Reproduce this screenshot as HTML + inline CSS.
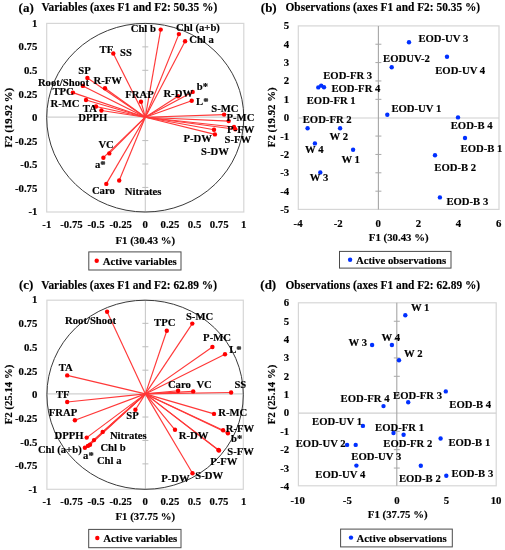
<!DOCTYPE html>
<html><head><meta charset="utf-8"><style>
html,body{margin:0;padding:0;background:#fff;}
svg{display:block;will-change:transform;filter:blur(0.3px);}
text{font-family:"Liberation Serif", serif;font-weight:bold;fill:#000;stroke:#000;stroke-width:0.15px;}
</style></head><body>
<svg width="505" height="550" viewBox="0 0 505 550">
<rect width="505" height="550" fill="#fff"/>
<rect x="46.70" y="23.40" width="197.10" height="188.60" stroke="#d6d6d6" stroke-width="1.2" fill="none"/>
<line x1="46.70" y1="117.20" x2="243.80" y2="117.20" stroke="#d0d0d0" stroke-width="1.2"/>
<line x1="145.30" y1="23.40" x2="145.30" y2="212.00" stroke="#cacaca" stroke-width="1.1"/>
<line x1="142.30" y1="46.88" x2="148.30" y2="46.88" stroke="#bcbcbc" stroke-width="1"/>
<line x1="142.30" y1="70.30" x2="148.30" y2="70.30" stroke="#bcbcbc" stroke-width="1"/>
<line x1="142.30" y1="93.73" x2="148.30" y2="93.73" stroke="#bcbcbc" stroke-width="1"/>
<line x1="142.30" y1="140.58" x2="148.30" y2="140.58" stroke="#bcbcbc" stroke-width="1"/>
<line x1="142.30" y1="164.00" x2="148.30" y2="164.00" stroke="#bcbcbc" stroke-width="1"/>
<line x1="142.30" y1="187.43" x2="148.30" y2="187.43" stroke="#bcbcbc" stroke-width="1"/>
<ellipse cx="145.25" cy="117.7" rx="98.55" ry="94.3" stroke="#3a3a3a" stroke-width="1" fill="none"/>
<line x1="145.30" y1="117.20" x2="160.70" y2="29.60" stroke="#ff3838" stroke-width="1.15"/>
<line x1="145.30" y1="117.20" x2="178.90" y2="34.10" stroke="#ff3838" stroke-width="1.15"/>
<line x1="145.30" y1="117.20" x2="185.10" y2="41.30" stroke="#ff3838" stroke-width="1.15"/>
<line x1="145.30" y1="117.20" x2="113.30" y2="53.50" stroke="#ff3838" stroke-width="1.15"/>
<line x1="145.30" y1="117.20" x2="87.40" y2="78.00" stroke="#ff3838" stroke-width="1.15"/>
<line x1="145.30" y1="117.20" x2="82.90" y2="85.90" stroke="#ff3838" stroke-width="1.15"/>
<line x1="145.30" y1="117.20" x2="105.00" y2="88.30" stroke="#ff3838" stroke-width="1.15"/>
<line x1="145.30" y1="117.20" x2="72.90" y2="92.60" stroke="#ff3838" stroke-width="1.15"/>
<line x1="145.30" y1="117.20" x2="86.00" y2="100.00" stroke="#ff3838" stroke-width="1.15"/>
<line x1="145.30" y1="117.20" x2="96.00" y2="106.50" stroke="#ff3838" stroke-width="1.15"/>
<line x1="145.30" y1="117.20" x2="101.40" y2="110.50" stroke="#ff3838" stroke-width="1.15"/>
<line x1="145.30" y1="117.20" x2="141.00" y2="101.70" stroke="#ff3838" stroke-width="1.15"/>
<line x1="145.30" y1="117.20" x2="178.00" y2="96.30" stroke="#ff3838" stroke-width="1.15"/>
<line x1="145.30" y1="117.20" x2="192.70" y2="91.90" stroke="#ff3838" stroke-width="1.15"/>
<line x1="145.30" y1="117.20" x2="191.70" y2="100.80" stroke="#ff3838" stroke-width="1.15"/>
<line x1="145.30" y1="117.20" x2="224.10" y2="114.60" stroke="#ff3838" stroke-width="1.15"/>
<line x1="145.30" y1="117.20" x2="228.70" y2="121.10" stroke="#ff3838" stroke-width="1.15"/>
<line x1="145.30" y1="117.20" x2="234.00" y2="127.00" stroke="#ff3838" stroke-width="1.15"/>
<line x1="145.30" y1="117.20" x2="235.30" y2="129.20" stroke="#ff3838" stroke-width="1.15"/>
<line x1="145.30" y1="117.20" x2="214.00" y2="129.80" stroke="#ff3838" stroke-width="1.15"/>
<line x1="145.30" y1="117.20" x2="214.90" y2="134.40" stroke="#ff3838" stroke-width="1.15"/>
<line x1="145.30" y1="117.20" x2="109.30" y2="153.40" stroke="#ff3838" stroke-width="1.15"/>
<line x1="145.30" y1="117.20" x2="103.40" y2="157.70" stroke="#ff3838" stroke-width="1.15"/>
<line x1="145.30" y1="117.20" x2="106.30" y2="183.90" stroke="#ff3838" stroke-width="1.15"/>
<line x1="145.30" y1="117.20" x2="119.20" y2="180.50" stroke="#ff3838" stroke-width="1.15"/>
<circle cx="160.70" cy="29.60" r="2.2" fill="#ff0000"/>
<circle cx="178.90" cy="34.10" r="2.2" fill="#ff0000"/>
<circle cx="185.10" cy="41.30" r="2.2" fill="#ff0000"/>
<circle cx="113.30" cy="53.50" r="2.2" fill="#ff0000"/>
<circle cx="87.40" cy="78.00" r="2.2" fill="#ff0000"/>
<circle cx="82.90" cy="85.90" r="2.2" fill="#ff0000"/>
<circle cx="105.00" cy="88.30" r="2.2" fill="#ff0000"/>
<circle cx="72.90" cy="92.60" r="2.2" fill="#ff0000"/>
<circle cx="86.00" cy="100.00" r="2.2" fill="#ff0000"/>
<circle cx="96.00" cy="106.50" r="2.2" fill="#ff0000"/>
<circle cx="101.40" cy="110.50" r="2.2" fill="#ff0000"/>
<circle cx="141.00" cy="101.70" r="2.2" fill="#ff0000"/>
<circle cx="178.00" cy="96.30" r="2.2" fill="#ff0000"/>
<circle cx="192.70" cy="91.90" r="2.2" fill="#ff0000"/>
<circle cx="191.70" cy="100.80" r="2.2" fill="#ff0000"/>
<circle cx="224.10" cy="114.60" r="2.2" fill="#ff0000"/>
<circle cx="228.70" cy="121.10" r="2.2" fill="#ff0000"/>
<circle cx="234.00" cy="127.00" r="2.2" fill="#ff0000"/>
<circle cx="235.30" cy="129.20" r="2.2" fill="#ff0000"/>
<circle cx="214.00" cy="129.80" r="2.2" fill="#ff0000"/>
<circle cx="214.90" cy="134.40" r="2.2" fill="#ff0000"/>
<circle cx="109.30" cy="153.40" r="2.2" fill="#ff0000"/>
<circle cx="103.40" cy="157.70" r="2.2" fill="#ff0000"/>
<circle cx="106.30" cy="183.90" r="2.2" fill="#ff0000"/>
<circle cx="119.20" cy="180.50" r="2.2" fill="#ff0000"/>
<text transform="translate(130.70,28.40) scale(1,1.035)" y="3.32" font-size="10.7" text-anchor="start">Chl b</text>
<text transform="translate(176.10,27.10) scale(1,1.035)" y="3.32" font-size="10.7" text-anchor="start">Chl (a+b)</text>
<text transform="translate(189.20,39.60) scale(1,1.035)" y="3.32" font-size="10.7" text-anchor="start">Chl a</text>
<text transform="translate(99.60,49.90) scale(1,1.035)" y="3.32" font-size="10.7" text-anchor="start">TF</text>
<text transform="translate(120.10,52.90) scale(1,1.035)" y="3.32" font-size="10.7" text-anchor="start">SS</text>
<text transform="translate(78.20,70.90) scale(1,1.035)" y="3.32" font-size="10.7" text-anchor="start">SP</text>
<text transform="translate(37.90,82.10) scale(1,1.035)" y="3.32" font-size="10.7" text-anchor="start">Root/Shoot</text>
<text transform="translate(93.50,80.80) scale(1,1.035)" y="3.32" font-size="10.7" text-anchor="start">R-FW</text>
<text transform="translate(52.40,91.60) scale(1,1.035)" y="3.32" font-size="10.7" text-anchor="start">TPC</text>
<text transform="translate(50.50,103.20) scale(1,1.035)" y="3.32" font-size="10.7" text-anchor="start">R-MC</text>
<text transform="translate(82.80,108.50) scale(1,1.035)" y="3.32" font-size="10.7" text-anchor="start">TA</text>
<text transform="translate(78.20,117.40) scale(1,1.035)" y="3.32" font-size="10.7" text-anchor="start">DPPH</text>
<text transform="translate(125.30,94.70) scale(1,1.035)" y="3.32" font-size="10.7" text-anchor="start">FRAP</text>
<text transform="translate(163.40,93.90) scale(1,1.035)" y="3.32" font-size="10.7" text-anchor="start">R-DW</text>
<text transform="translate(196.70,86.90) scale(1,1.035)" y="3.32" font-size="10.7" text-anchor="start">b*</text>
<text transform="translate(196.00,101.30) scale(1,1.035)" y="3.32" font-size="10.7" text-anchor="start">L*</text>
<text transform="translate(211.20,109.00) scale(1,1.035)" y="3.32" font-size="10.7" text-anchor="start">S-MC</text>
<text transform="translate(226.50,117.50) scale(1,1.035)" y="3.32" font-size="10.7" text-anchor="start">P-MC</text>
<text transform="translate(227.10,129.70) scale(1,1.035)" y="3.32" font-size="10.7" text-anchor="start">P-FW</text>
<text transform="translate(224.50,139.50) scale(1,1.035)" y="3.32" font-size="10.7" text-anchor="start">S-FW</text>
<text transform="translate(183.50,138.80) scale(1,1.035)" y="3.32" font-size="10.7" text-anchor="start">P-DW</text>
<text transform="translate(201.10,151.60) scale(1,1.035)" y="3.32" font-size="10.7" text-anchor="start">S-DW</text>
<text transform="translate(98.40,144.30) scale(1,1.035)" y="3.32" font-size="10.7" text-anchor="start">VC</text>
<text transform="translate(95.00,164.70) scale(1,1.035)" y="3.32" font-size="10.7" text-anchor="start">a*</text>
<text transform="translate(91.90,190.40) scale(1,1.035)" y="3.32" font-size="10.7" text-anchor="start">Caro</text>
<text transform="translate(124.70,191.80) scale(1,1.035)" y="3.32" font-size="10.7" text-anchor="start">Nitrates</text>
<text transform="translate(37.40,23.30) scale(1,1.035)" y="3.35" font-size="10.8" text-anchor="end">1</text>
<text transform="translate(37.40,46.88) scale(1,1.035)" y="3.35" font-size="10.8" text-anchor="end">0.75</text>
<text transform="translate(37.40,70.45) scale(1,1.035)" y="3.35" font-size="10.8" text-anchor="end">0.5</text>
<text transform="translate(37.40,94.02) scale(1,1.035)" y="3.35" font-size="10.8" text-anchor="end">0.25</text>
<text transform="translate(37.40,117.60) scale(1,1.035)" y="3.35" font-size="10.8" text-anchor="end">0</text>
<text transform="translate(37.40,141.17) scale(1,1.035)" y="3.35" font-size="10.8" text-anchor="end">-0.25</text>
<text transform="translate(37.40,164.75) scale(1,1.035)" y="3.35" font-size="10.8" text-anchor="end">-0.5</text>
<text transform="translate(37.40,188.32) scale(1,1.035)" y="3.35" font-size="10.8" text-anchor="end">-0.75</text>
<text transform="translate(37.40,211.90) scale(1,1.035)" y="3.35" font-size="10.8" text-anchor="end">-1</text>
<text transform="translate(46.80,224.60) scale(1,1.035)" y="3.35" font-size="10.8" text-anchor="middle">-1</text>
<text transform="translate(71.43,224.60) scale(1,1.035)" y="3.35" font-size="10.8" text-anchor="middle">-0.75</text>
<text transform="translate(96.05,224.60) scale(1,1.035)" y="3.35" font-size="10.8" text-anchor="middle">-0.5</text>
<text transform="translate(120.68,224.60) scale(1,1.035)" y="3.35" font-size="10.8" text-anchor="middle">-0.25</text>
<text transform="translate(145.30,224.60) scale(1,1.035)" y="3.35" font-size="10.8" text-anchor="middle">0</text>
<text transform="translate(169.93,224.60) scale(1,1.035)" y="3.35" font-size="10.8" text-anchor="middle">0.25</text>
<text transform="translate(194.55,224.60) scale(1,1.035)" y="3.35" font-size="10.8" text-anchor="middle">0.5</text>
<text transform="translate(219.18,224.60) scale(1,1.035)" y="3.35" font-size="10.8" text-anchor="middle">0.75</text>
<text transform="translate(243.80,224.60) scale(1,1.035)" y="3.35" font-size="10.8" text-anchor="middle">1</text>
<text transform="translate(145.30,240.70) scale(1,1.035)" y="3.35" font-size="10.8" text-anchor="middle">F1 (30.43 %)</text>
<text x="0" y="0" font-size="10.8" text-anchor="middle" transform="translate(11.55,117.70) rotate(-90) scale(1,1.035)">F2 (19.92 %)</text>
<text transform="translate(18.60,8.00) scale(1,1.035)" y="4.03" font-size="13.0" text-anchor="start">(a)</text>
<text transform="translate(41.40,7.70) scale(1,1.035)" y="3.53" font-size="11.4" text-anchor="start">Variables (axes F1 and F2: 50.35 %)</text>
<rect x="88.80" y="251.90" width="92.20" height="18.10" stroke="#4a4a4a" stroke-width="1" fill="none"/>
<circle cx="96.70" cy="260.70" r="2.2" fill="#ff0000"/>
<text transform="translate(102.70,261.25) scale(1,1.035)" y="3.35" font-size="10.8" text-anchor="start">Active variables</text>
<rect x="298.30" y="25.90" width="200.70" height="183.50" stroke="#d6d6d6" stroke-width="1.2" fill="none"/>
<line x1="298.30" y1="118.00" x2="499.00" y2="118.00" stroke="#d0d0d0" stroke-width="1.2"/>
<line x1="378.40" y1="25.90" x2="378.40" y2="209.40" stroke="#a6a6a6" stroke-width="1.1"/>
<line x1="375.40" y1="44.22" x2="381.40" y2="44.22" stroke="#a8a8a8" stroke-width="1"/>
<line x1="375.40" y1="62.59" x2="381.40" y2="62.59" stroke="#a8a8a8" stroke-width="1"/>
<line x1="375.40" y1="80.96" x2="381.40" y2="80.96" stroke="#a8a8a8" stroke-width="1"/>
<line x1="375.40" y1="99.33" x2="381.40" y2="99.33" stroke="#a8a8a8" stroke-width="1"/>
<line x1="375.40" y1="136.07" x2="381.40" y2="136.07" stroke="#a8a8a8" stroke-width="1"/>
<line x1="375.40" y1="154.44" x2="381.40" y2="154.44" stroke="#a8a8a8" stroke-width="1"/>
<line x1="375.40" y1="172.81" x2="381.40" y2="172.81" stroke="#a8a8a8" stroke-width="1"/>
<line x1="375.40" y1="191.18" x2="381.40" y2="191.18" stroke="#a8a8a8" stroke-width="1"/>
<circle cx="409.00" cy="42.30" r="2.2" fill="#0030ff"/>
<circle cx="447.00" cy="56.80" r="2.2" fill="#0030ff"/>
<circle cx="391.70" cy="67.30" r="2.2" fill="#0030ff"/>
<circle cx="318.30" cy="87.40" r="2.2" fill="#0030ff"/>
<circle cx="321.20" cy="85.60" r="2.2" fill="#0030ff"/>
<circle cx="324.00" cy="87.30" r="2.2" fill="#0030ff"/>
<circle cx="387.30" cy="114.70" r="2.2" fill="#0030ff"/>
<circle cx="458.00" cy="117.40" r="2.2" fill="#0030ff"/>
<circle cx="465.00" cy="138.00" r="2.2" fill="#0030ff"/>
<circle cx="435.00" cy="155.20" r="2.2" fill="#0030ff"/>
<circle cx="439.90" cy="197.40" r="2.2" fill="#0030ff"/>
<circle cx="307.60" cy="128.30" r="2.2" fill="#0030ff"/>
<circle cx="340.10" cy="128.30" r="2.2" fill="#0030ff"/>
<circle cx="314.90" cy="143.40" r="2.2" fill="#0030ff"/>
<circle cx="353.10" cy="149.70" r="2.2" fill="#0030ff"/>
<circle cx="320.30" cy="172.40" r="2.2" fill="#0030ff"/>
<text transform="translate(418.40,38.10) scale(1,1.035)" y="3.32" font-size="10.7" text-anchor="start">EOD-UV 3</text>
<text transform="translate(383.10,58.50) scale(1,1.035)" y="3.32" font-size="10.7" text-anchor="start">EODUV-2</text>
<text transform="translate(435.20,70.30) scale(1,1.035)" y="3.32" font-size="10.7" text-anchor="start">EOD-UV 4</text>
<text transform="translate(323.20,75.50) scale(1,1.035)" y="3.32" font-size="10.7" text-anchor="start">EOD-FR 3</text>
<text transform="translate(331.40,88.40) scale(1,1.035)" y="3.32" font-size="10.7" text-anchor="start">EOD-FR 4</text>
<text transform="translate(306.70,100.10) scale(1,1.035)" y="3.32" font-size="10.7" text-anchor="start">EOD-FR 1</text>
<text transform="translate(391.40,108.30) scale(1,1.035)" y="3.32" font-size="10.7" text-anchor="start">EOD-UV 1</text>
<text transform="translate(450.70,125.40) scale(1,1.035)" y="3.32" font-size="10.7" text-anchor="start">EOD-B 4</text>
<text transform="translate(460.60,148.60) scale(1,1.035)" y="3.32" font-size="10.7" text-anchor="start">EOD-B 1</text>
<text transform="translate(434.30,167.80) scale(1,1.035)" y="3.32" font-size="10.7" text-anchor="start">EOD-B 2</text>
<text transform="translate(446.40,201.10) scale(1,1.035)" y="3.32" font-size="10.7" text-anchor="start">EOD-B 3</text>
<text transform="translate(302.70,119.90) scale(1,1.035)" y="3.32" font-size="10.7" text-anchor="start">EOD-FR 2</text>
<text transform="translate(329.60,137.00) scale(1,1.035)" y="3.32" font-size="10.7" text-anchor="start">W 2</text>
<text transform="translate(305.00,149.30) scale(1,1.035)" y="3.32" font-size="10.7" text-anchor="start">W 4</text>
<text transform="translate(341.40,159.40) scale(1,1.035)" y="3.32" font-size="10.7" text-anchor="start">W 1</text>
<text transform="translate(309.80,177.90) scale(1,1.035)" y="3.32" font-size="10.7" text-anchor="start">W 3</text>
<text transform="translate(289.20,25.85) scale(1,1.035)" y="3.35" font-size="10.8" text-anchor="end">5</text>
<text transform="translate(289.20,44.22) scale(1,1.035)" y="3.35" font-size="10.8" text-anchor="end">4</text>
<text transform="translate(289.20,62.59) scale(1,1.035)" y="3.35" font-size="10.8" text-anchor="end">3</text>
<text transform="translate(289.20,80.96) scale(1,1.035)" y="3.35" font-size="10.8" text-anchor="end">2</text>
<text transform="translate(289.20,99.33) scale(1,1.035)" y="3.35" font-size="10.8" text-anchor="end">1</text>
<text transform="translate(289.20,117.70) scale(1,1.035)" y="3.35" font-size="10.8" text-anchor="end">0</text>
<text transform="translate(289.20,136.07) scale(1,1.035)" y="3.35" font-size="10.8" text-anchor="end">-1</text>
<text transform="translate(289.20,154.44) scale(1,1.035)" y="3.35" font-size="10.8" text-anchor="end">-2</text>
<text transform="translate(289.20,172.81) scale(1,1.035)" y="3.35" font-size="10.8" text-anchor="end">-3</text>
<text transform="translate(289.20,191.18) scale(1,1.035)" y="3.35" font-size="10.8" text-anchor="end">-4</text>
<text transform="translate(289.20,209.55) scale(1,1.035)" y="3.35" font-size="10.8" text-anchor="end">-5</text>
<text transform="translate(298.10,223.50) scale(1,1.035)" y="3.35" font-size="10.8" text-anchor="middle">-4</text>
<text transform="translate(338.20,223.50) scale(1,1.035)" y="3.35" font-size="10.8" text-anchor="middle">-2</text>
<text transform="translate(378.30,223.50) scale(1,1.035)" y="3.35" font-size="10.8" text-anchor="middle">0</text>
<text transform="translate(418.40,223.50) scale(1,1.035)" y="3.35" font-size="10.8" text-anchor="middle">2</text>
<text transform="translate(458.50,223.50) scale(1,1.035)" y="3.35" font-size="10.8" text-anchor="middle">4</text>
<text transform="translate(498.60,223.50) scale(1,1.035)" y="3.35" font-size="10.8" text-anchor="middle">6</text>
<text transform="translate(398.70,237.30) scale(1,1.035)" y="3.35" font-size="10.8" text-anchor="middle">F1 (30.43 %)</text>
<text x="0" y="0" font-size="10.8" text-anchor="middle" transform="translate(275.25,117.30) rotate(-90) scale(1,1.035)">F2 (19.92 %)</text>
<text transform="translate(260.80,8.00) scale(1,1.035)" y="4.03" font-size="13.0" text-anchor="start">(b)</text>
<text transform="translate(285.50,7.70) scale(1,1.035)" y="3.53" font-size="11.4" text-anchor="start">Observations (axes F1 and F2: 50.35 %)</text>
<rect x="339.50" y="251.40" width="111.50" height="16.70" stroke="#4a4a4a" stroke-width="1" fill="none"/>
<circle cx="350.10" cy="259.70" r="2.2" fill="#0030ff"/>
<text transform="translate(355.90,260.05) scale(1,1.035)" y="3.35" font-size="10.8" text-anchor="start">Active observations</text>
<rect x="46.90" y="300.20" width="196.40" height="189.10" stroke="#d6d6d6" stroke-width="1.2" fill="none"/>
<line x1="46.90" y1="393.90" x2="243.30" y2="393.90" stroke="#d0d0d0" stroke-width="1.2"/>
<line x1="145.40" y1="300.20" x2="145.40" y2="489.30" stroke="#cacaca" stroke-width="1.1"/>
<line x1="142.40" y1="323.33" x2="148.40" y2="323.33" stroke="#bcbcbc" stroke-width="1"/>
<line x1="142.40" y1="346.75" x2="148.40" y2="346.75" stroke="#bcbcbc" stroke-width="1"/>
<line x1="142.40" y1="370.18" x2="148.40" y2="370.18" stroke="#bcbcbc" stroke-width="1"/>
<line x1="142.40" y1="417.03" x2="148.40" y2="417.03" stroke="#bcbcbc" stroke-width="1"/>
<line x1="142.40" y1="440.45" x2="148.40" y2="440.45" stroke="#bcbcbc" stroke-width="1"/>
<line x1="142.40" y1="463.88" x2="148.40" y2="463.88" stroke="#bcbcbc" stroke-width="1"/>
<ellipse cx="145.1" cy="394.75" rx="98.2" ry="94.55" stroke="#3a3a3a" stroke-width="1" fill="none"/>
<line x1="145.40" y1="393.90" x2="107.10" y2="311.80" stroke="#ff3838" stroke-width="1.15"/>
<line x1="145.40" y1="393.90" x2="166.80" y2="330.80" stroke="#ff3838" stroke-width="1.15"/>
<line x1="145.40" y1="393.90" x2="192.30" y2="323.60" stroke="#ff3838" stroke-width="1.15"/>
<line x1="145.40" y1="393.90" x2="212.40" y2="347.00" stroke="#ff3838" stroke-width="1.15"/>
<line x1="145.40" y1="393.90" x2="225.00" y2="354.20" stroke="#ff3838" stroke-width="1.15"/>
<line x1="145.40" y1="393.90" x2="67.20" y2="375.40" stroke="#ff3838" stroke-width="1.15"/>
<line x1="145.40" y1="393.90" x2="67.20" y2="402.00" stroke="#ff3838" stroke-width="1.15"/>
<line x1="145.40" y1="393.90" x2="74.90" y2="420.30" stroke="#ff3838" stroke-width="1.15"/>
<line x1="145.40" y1="393.90" x2="135.40" y2="409.70" stroke="#ff3838" stroke-width="1.15"/>
<line x1="145.40" y1="393.90" x2="178.10" y2="390.80" stroke="#ff3838" stroke-width="1.15"/>
<line x1="145.40" y1="393.90" x2="193.20" y2="391.40" stroke="#ff3838" stroke-width="1.15"/>
<line x1="145.40" y1="393.90" x2="231.10" y2="392.50" stroke="#ff3838" stroke-width="1.15"/>
<line x1="145.40" y1="393.90" x2="214.00" y2="413.90" stroke="#ff3838" stroke-width="1.15"/>
<line x1="145.40" y1="393.90" x2="175.00" y2="429.80" stroke="#ff3838" stroke-width="1.15"/>
<line x1="145.40" y1="393.90" x2="223.10" y2="430.30" stroke="#ff3838" stroke-width="1.15"/>
<line x1="145.40" y1="393.90" x2="227.90" y2="433.30" stroke="#ff3838" stroke-width="1.15"/>
<line x1="145.40" y1="393.90" x2="219.00" y2="450.50" stroke="#ff3838" stroke-width="1.15"/>
<line x1="145.40" y1="393.90" x2="218.40" y2="450.00" stroke="#ff3838" stroke-width="1.15"/>
<line x1="145.40" y1="393.90" x2="192.50" y2="473.30" stroke="#ff3838" stroke-width="1.15"/>
<line x1="145.40" y1="393.90" x2="86.70" y2="437.60" stroke="#ff3838" stroke-width="1.15"/>
<line x1="145.40" y1="393.90" x2="102.70" y2="431.90" stroke="#ff3838" stroke-width="1.15"/>
<line x1="145.40" y1="393.90" x2="94.00" y2="440.10" stroke="#ff3838" stroke-width="1.15"/>
<line x1="145.40" y1="393.90" x2="90.00" y2="444.80" stroke="#ff3838" stroke-width="1.15"/>
<line x1="145.40" y1="393.90" x2="87.90" y2="445.90" stroke="#ff3838" stroke-width="1.15"/>
<line x1="145.40" y1="393.90" x2="84.90" y2="447.70" stroke="#ff3838" stroke-width="1.15"/>
<circle cx="107.10" cy="311.80" r="2.2" fill="#ff0000"/>
<circle cx="166.80" cy="330.80" r="2.2" fill="#ff0000"/>
<circle cx="192.30" cy="323.60" r="2.2" fill="#ff0000"/>
<circle cx="212.40" cy="347.00" r="2.2" fill="#ff0000"/>
<circle cx="225.00" cy="354.20" r="2.2" fill="#ff0000"/>
<circle cx="67.20" cy="375.40" r="2.2" fill="#ff0000"/>
<circle cx="67.20" cy="402.00" r="2.2" fill="#ff0000"/>
<circle cx="74.90" cy="420.30" r="2.2" fill="#ff0000"/>
<circle cx="135.40" cy="409.70" r="2.2" fill="#ff0000"/>
<circle cx="178.10" cy="390.80" r="2.2" fill="#ff0000"/>
<circle cx="193.20" cy="391.40" r="2.2" fill="#ff0000"/>
<circle cx="231.10" cy="392.50" r="2.2" fill="#ff0000"/>
<circle cx="214.00" cy="413.90" r="2.2" fill="#ff0000"/>
<circle cx="175.00" cy="429.80" r="2.2" fill="#ff0000"/>
<circle cx="223.10" cy="430.30" r="2.2" fill="#ff0000"/>
<circle cx="227.90" cy="433.30" r="2.2" fill="#ff0000"/>
<circle cx="219.00" cy="450.50" r="2.2" fill="#ff0000"/>
<circle cx="218.40" cy="450.00" r="2.2" fill="#ff0000"/>
<circle cx="192.50" cy="473.30" r="2.2" fill="#ff0000"/>
<circle cx="86.70" cy="437.60" r="2.2" fill="#ff0000"/>
<circle cx="102.70" cy="431.90" r="2.2" fill="#ff0000"/>
<circle cx="94.00" cy="440.10" r="2.2" fill="#ff0000"/>
<circle cx="90.00" cy="444.80" r="2.2" fill="#ff0000"/>
<circle cx="87.90" cy="445.90" r="2.2" fill="#ff0000"/>
<circle cx="84.90" cy="447.70" r="2.2" fill="#ff0000"/>
<text transform="translate(65.00,320.40) scale(1,1.035)" y="3.32" font-size="10.7" text-anchor="start">Root/Shoot</text>
<text transform="translate(154.10,322.50) scale(1,1.035)" y="3.32" font-size="10.7" text-anchor="start">TPC</text>
<text transform="translate(185.90,316.20) scale(1,1.035)" y="3.32" font-size="10.7" text-anchor="start">S-MC</text>
<text transform="translate(203.10,337.80) scale(1,1.035)" y="3.32" font-size="10.7" text-anchor="start">P-MC</text>
<text transform="translate(229.20,349.20) scale(1,1.035)" y="3.32" font-size="10.7" text-anchor="start">L*</text>
<text transform="translate(58.70,367.80) scale(1,1.035)" y="3.32" font-size="10.7" text-anchor="start">TA</text>
<text transform="translate(55.90,394.90) scale(1,1.035)" y="3.32" font-size="10.7" text-anchor="start">TF</text>
<text transform="translate(48.80,412.90) scale(1,1.035)" y="3.32" font-size="10.7" text-anchor="start">FRAP</text>
<text transform="translate(126.30,416.00) scale(1,1.035)" y="3.32" font-size="10.7" text-anchor="start">SP</text>
<text transform="translate(167.90,384.10) scale(1,1.035)" y="3.32" font-size="10.7" text-anchor="start">Caro</text>
<text transform="translate(196.40,384.10) scale(1,1.035)" y="3.32" font-size="10.7" text-anchor="start">VC</text>
<text transform="translate(234.40,384.10) scale(1,1.035)" y="3.32" font-size="10.7" text-anchor="start">SS</text>
<text transform="translate(218.20,412.40) scale(1,1.035)" y="3.32" font-size="10.7" text-anchor="start">R-MC</text>
<text transform="translate(178.70,436.00) scale(1,1.035)" y="3.32" font-size="10.7" text-anchor="start">R-DW</text>
<text transform="translate(225.80,428.20) scale(1,1.035)" y="3.32" font-size="10.7" text-anchor="start">R-FW</text>
<text transform="translate(231.00,438.80) scale(1,1.035)" y="3.32" font-size="10.7" text-anchor="start">b*</text>
<text transform="translate(227.20,451.60) scale(1,1.035)" y="3.32" font-size="10.7" text-anchor="start">S-FW</text>
<text transform="translate(210.20,461.20) scale(1,1.035)" y="3.32" font-size="10.7" text-anchor="start">P-FW</text>
<text transform="translate(161.20,478.40) scale(1,1.035)" y="3.32" font-size="10.7" text-anchor="start">P-DW</text>
<text transform="translate(195.20,476.00) scale(1,1.035)" y="3.32" font-size="10.7" text-anchor="start">S-DW</text>
<text transform="translate(54.60,435.20) scale(1,1.035)" y="3.32" font-size="10.7" text-anchor="start">DPPH</text>
<text transform="translate(109.90,435.20) scale(1,1.035)" y="3.32" font-size="10.7" text-anchor="start">Nitrates</text>
<text transform="translate(37.90,449.20) scale(1,1.035)" y="3.32" font-size="10.7" text-anchor="start">Chl (a+b)</text>
<text transform="translate(100.40,448.00) scale(1,1.035)" y="3.32" font-size="10.7" text-anchor="start">Chl b</text>
<text transform="translate(83.10,455.90) scale(1,1.035)" y="3.32" font-size="10.7" text-anchor="start">a*</text>
<text transform="translate(96.90,460.60) scale(1,1.035)" y="3.32" font-size="10.7" text-anchor="start">Chl a</text>
<text transform="translate(37.40,300.00) scale(1,1.035)" y="3.35" font-size="10.8" text-anchor="end">1</text>
<text transform="translate(37.40,323.70) scale(1,1.035)" y="3.35" font-size="10.8" text-anchor="end">0.75</text>
<text transform="translate(37.40,347.40) scale(1,1.035)" y="3.35" font-size="10.8" text-anchor="end">0.5</text>
<text transform="translate(37.40,371.10) scale(1,1.035)" y="3.35" font-size="10.8" text-anchor="end">0.25</text>
<text transform="translate(37.40,394.80) scale(1,1.035)" y="3.35" font-size="10.8" text-anchor="end">0</text>
<text transform="translate(37.40,418.50) scale(1,1.035)" y="3.35" font-size="10.8" text-anchor="end">-0.25</text>
<text transform="translate(37.40,442.20) scale(1,1.035)" y="3.35" font-size="10.8" text-anchor="end">-0.5</text>
<text transform="translate(37.40,465.90) scale(1,1.035)" y="3.35" font-size="10.8" text-anchor="end">-0.75</text>
<text transform="translate(37.40,489.60) scale(1,1.035)" y="3.35" font-size="10.8" text-anchor="end">-1</text>
<text transform="translate(47.00,501.50) scale(1,1.035)" y="3.35" font-size="10.8" text-anchor="middle">-1</text>
<text transform="translate(71.58,501.50) scale(1,1.035)" y="3.35" font-size="10.8" text-anchor="middle">-0.75</text>
<text transform="translate(96.15,501.50) scale(1,1.035)" y="3.35" font-size="10.8" text-anchor="middle">-0.5</text>
<text transform="translate(120.73,501.50) scale(1,1.035)" y="3.35" font-size="10.8" text-anchor="middle">-0.25</text>
<text transform="translate(145.30,501.50) scale(1,1.035)" y="3.35" font-size="10.8" text-anchor="middle">0</text>
<text transform="translate(169.88,501.50) scale(1,1.035)" y="3.35" font-size="10.8" text-anchor="middle">0.25</text>
<text transform="translate(194.45,501.50) scale(1,1.035)" y="3.35" font-size="10.8" text-anchor="middle">0.5</text>
<text transform="translate(219.03,501.50) scale(1,1.035)" y="3.35" font-size="10.8" text-anchor="middle">0.75</text>
<text transform="translate(243.60,501.50) scale(1,1.035)" y="3.35" font-size="10.8" text-anchor="middle">1</text>
<text transform="translate(145.30,516.80) scale(1,1.035)" y="3.35" font-size="10.8" text-anchor="middle">F1 (37.75 %)</text>
<text x="0" y="0" font-size="10.8" text-anchor="middle" transform="translate(11.65,394.50) rotate(-90) scale(1,1.035)">F2 (25.14 %)</text>
<text transform="translate(18.90,285.20) scale(1,1.035)" y="4.03" font-size="13.0" text-anchor="start">(c)</text>
<text transform="translate(41.20,284.90) scale(1,1.035)" y="3.53" font-size="11.4" text-anchor="start">Variables (axes F1 and F2: 62.89 %)</text>
<rect x="88.70" y="529.40" width="92.30" height="18.30" stroke="#4a4a4a" stroke-width="1" fill="none"/>
<circle cx="97.30" cy="538.00" r="2.2" fill="#ff0000"/>
<text transform="translate(103.20,538.85) scale(1,1.035)" y="3.35" font-size="10.8" text-anchor="start">Active variables</text>
<rect x="298.40" y="302.80" width="197.80" height="183.00" stroke="#d6d6d6" stroke-width="1.2" fill="none"/>
<line x1="298.40" y1="413.10" x2="496.20" y2="413.10" stroke="#d0d0d0" stroke-width="1.2"/>
<line x1="396.80" y1="302.80" x2="396.80" y2="485.80" stroke="#a6a6a6" stroke-width="1.1"/>
<line x1="393.80" y1="321.25" x2="399.80" y2="321.25" stroke="#a8a8a8" stroke-width="1"/>
<line x1="393.80" y1="339.60" x2="399.80" y2="339.60" stroke="#a8a8a8" stroke-width="1"/>
<line x1="393.80" y1="357.95" x2="399.80" y2="357.95" stroke="#a8a8a8" stroke-width="1"/>
<line x1="393.80" y1="376.30" x2="399.80" y2="376.30" stroke="#a8a8a8" stroke-width="1"/>
<line x1="393.80" y1="394.65" x2="399.80" y2="394.65" stroke="#a8a8a8" stroke-width="1"/>
<line x1="393.80" y1="431.35" x2="399.80" y2="431.35" stroke="#a8a8a8" stroke-width="1"/>
<line x1="393.80" y1="449.70" x2="399.80" y2="449.70" stroke="#a8a8a8" stroke-width="1"/>
<line x1="393.80" y1="468.05" x2="399.80" y2="468.05" stroke="#a8a8a8" stroke-width="1"/>
<circle cx="405.30" cy="315.30" r="2.2" fill="#0030ff"/>
<circle cx="372.10" cy="345.00" r="2.2" fill="#0030ff"/>
<circle cx="391.90" cy="345.00" r="2.2" fill="#0030ff"/>
<circle cx="399.00" cy="360.30" r="2.2" fill="#0030ff"/>
<circle cx="383.50" cy="406.10" r="2.2" fill="#0030ff"/>
<circle cx="408.20" cy="402.30" r="2.2" fill="#0030ff"/>
<circle cx="445.80" cy="391.40" r="2.2" fill="#0030ff"/>
<circle cx="362.90" cy="425.90" r="2.2" fill="#0030ff"/>
<circle cx="393.50" cy="433.00" r="2.2" fill="#0030ff"/>
<circle cx="403.60" cy="434.80" r="2.2" fill="#0030ff"/>
<circle cx="440.60" cy="438.50" r="2.2" fill="#0030ff"/>
<circle cx="347.10" cy="444.90" r="2.2" fill="#0030ff"/>
<circle cx="355.70" cy="444.90" r="2.2" fill="#0030ff"/>
<circle cx="356.40" cy="465.60" r="2.2" fill="#0030ff"/>
<circle cx="420.80" cy="465.80" r="2.2" fill="#0030ff"/>
<circle cx="446.30" cy="475.70" r="2.2" fill="#0030ff"/>
<text transform="translate(410.90,307.80) scale(1,1.035)" y="3.32" font-size="10.7" text-anchor="start">W 1</text>
<text transform="translate(348.60,342.40) scale(1,1.035)" y="3.32" font-size="10.7" text-anchor="start">W 3</text>
<text transform="translate(381.60,337.50) scale(1,1.035)" y="3.32" font-size="10.7" text-anchor="start">W 4</text>
<text transform="translate(404.00,353.40) scale(1,1.035)" y="3.32" font-size="10.7" text-anchor="start">W 2</text>
<text transform="translate(340.50,398.40) scale(1,1.035)" y="3.32" font-size="10.7" text-anchor="start">EOD-FR 4</text>
<text transform="translate(393.00,395.60) scale(1,1.035)" y="3.32" font-size="10.7" text-anchor="start">EOD-FR 3</text>
<text transform="translate(449.30,404.60) scale(1,1.035)" y="3.32" font-size="10.7" text-anchor="start">EOD-B 4</text>
<text transform="translate(312.00,422.00) scale(1,1.035)" y="3.32" font-size="10.7" text-anchor="start">EOD-UV 1</text>
<text transform="translate(375.10,427.40) scale(1,1.035)" y="3.32" font-size="10.7" text-anchor="start">EOD-FR 1</text>
<text transform="translate(383.30,443.50) scale(1,1.035)" y="3.32" font-size="10.7" text-anchor="start">EOD-FR 2</text>
<text transform="translate(448.40,443.00) scale(1,1.035)" y="3.32" font-size="10.7" text-anchor="start">EOD-B 1</text>
<text transform="translate(295.70,443.80) scale(1,1.035)" y="3.32" font-size="10.7" text-anchor="start">EOD-UV 2</text>
<text transform="translate(351.30,456.20) scale(1,1.035)" y="3.32" font-size="10.7" text-anchor="start">EOD-UV 3</text>
<text transform="translate(315.30,474.30) scale(1,1.035)" y="3.32" font-size="10.7" text-anchor="start">EOD-UV 4</text>
<text transform="translate(398.90,478.70) scale(1,1.035)" y="3.32" font-size="10.7" text-anchor="start">EOD-B 2</text>
<text transform="translate(451.40,473.20) scale(1,1.035)" y="3.32" font-size="10.7" text-anchor="start">EOD-B 3</text>
<text transform="translate(289.20,302.90) scale(1,1.035)" y="3.35" font-size="10.8" text-anchor="end">6</text>
<text transform="translate(289.20,321.25) scale(1,1.035)" y="3.35" font-size="10.8" text-anchor="end">5</text>
<text transform="translate(289.20,339.60) scale(1,1.035)" y="3.35" font-size="10.8" text-anchor="end">4</text>
<text transform="translate(289.20,357.95) scale(1,1.035)" y="3.35" font-size="10.8" text-anchor="end">3</text>
<text transform="translate(289.20,376.30) scale(1,1.035)" y="3.35" font-size="10.8" text-anchor="end">2</text>
<text transform="translate(289.20,394.65) scale(1,1.035)" y="3.35" font-size="10.8" text-anchor="end">1</text>
<text transform="translate(289.20,413.00) scale(1,1.035)" y="3.35" font-size="10.8" text-anchor="end">0</text>
<text transform="translate(289.20,431.35) scale(1,1.035)" y="3.35" font-size="10.8" text-anchor="end">-1</text>
<text transform="translate(289.20,449.70) scale(1,1.035)" y="3.35" font-size="10.8" text-anchor="end">-2</text>
<text transform="translate(289.20,468.05) scale(1,1.035)" y="3.35" font-size="10.8" text-anchor="end">-3</text>
<text transform="translate(289.20,486.40) scale(1,1.035)" y="3.35" font-size="10.8" text-anchor="end">-4</text>
<text transform="translate(297.70,500.50) scale(1,1.035)" y="3.35" font-size="10.8" text-anchor="middle">-10</text>
<text transform="translate(347.30,500.50) scale(1,1.035)" y="3.35" font-size="10.8" text-anchor="middle">-5</text>
<text transform="translate(396.90,500.50) scale(1,1.035)" y="3.35" font-size="10.8" text-anchor="middle">0</text>
<text transform="translate(446.50,500.50) scale(1,1.035)" y="3.35" font-size="10.8" text-anchor="middle">5</text>
<text transform="translate(496.10,500.50) scale(1,1.035)" y="3.35" font-size="10.8" text-anchor="middle">10</text>
<text transform="translate(397.70,514.40) scale(1,1.035)" y="3.35" font-size="10.8" text-anchor="middle">F1 (37.75 %)</text>
<text x="0" y="0" font-size="10.8" text-anchor="middle" transform="translate(274.85,394.50) rotate(-90) scale(1,1.035)">F2 (25.14 %)</text>
<text transform="translate(260.30,285.20) scale(1,1.035)" y="4.03" font-size="13.0" text-anchor="start">(d)</text>
<text transform="translate(285.50,284.90) scale(1,1.035)" y="3.53" font-size="11.4" text-anchor="start">Observations (axes F1 and F2: 62.89 %)</text>
<rect x="340.60" y="529.10" width="111.70" height="17.80" stroke="#4a4a4a" stroke-width="1" fill="none"/>
<circle cx="351.00" cy="537.60" r="2.2" fill="#0030ff"/>
<text transform="translate(356.50,538.30) scale(1,1.035)" y="3.35" font-size="10.8" text-anchor="start">Active observations</text>
</svg>
</body></html>
